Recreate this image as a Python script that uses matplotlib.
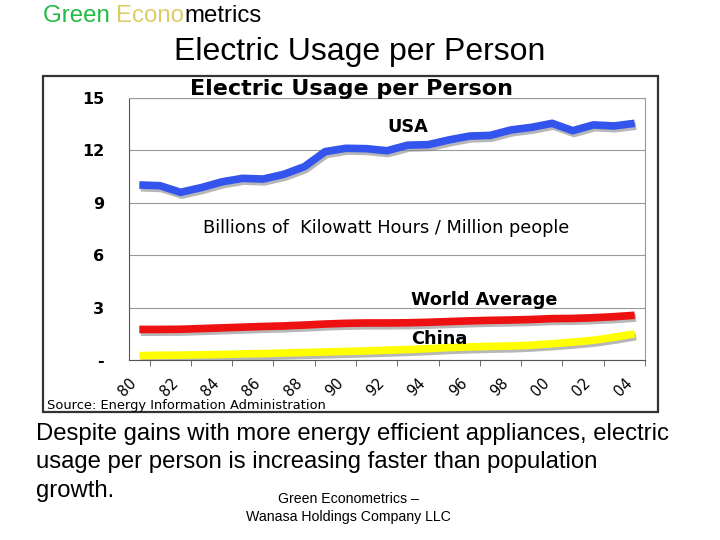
import numpy as np
import matplotlib
matplotlib.use("Agg")
import matplotlib.pyplot as plt
import matplotlib.patheffects as pe
from matplotlib.patches import Rectangle

# data (1980-2004)
years = ['80', '81', '82', '83', '84', '85', '86', '87', '88', '89',
         '90', '91', '92', '93', '94', '95', '96', '97', '98', '99',
         '00', '01', '02', '03', '04']
usa = [10.02, 9.98, 9.6, 9.87, 10.2, 10.4, 10.36, 10.63, 11.07, 11.93,
       12.12, 12.1, 11.98, 12.3, 12.33, 12.6, 12.82, 12.86, 13.17, 13.32,
       13.55, 13.13, 13.46, 13.4, 13.55]
world = [1.75, 1.75, 1.76, 1.8, 1.84, 1.88, 1.92, 1.95, 2.0, 2.06,
         2.1, 2.12, 2.12, 2.13, 2.16, 2.2, 2.24, 2.27, 2.29, 2.32,
         2.37, 2.38, 2.42, 2.48, 2.56]
china = [0.25, 0.27, 0.28, 0.3, 0.32, 0.35, 0.37, 0.4, 0.43, 0.46,
         0.49, 0.52, 0.56, 0.6, 0.65, 0.71, 0.75, 0.78, 0.8, 0.85,
         0.93, 1.02, 1.13, 1.3, 1.5]
yticks = [0, 3, 6, 9, 12, 15]
ylabels = ['-', '3', '6', '9', '12', '15']
note_lines = ['Despite gains with more energy efficient appliances, electric',
              'usage per person is increasing faster than population',
              'growth.']

W, H = 720, 540
fig = plt.figure(figsize=(7.2, 5.4), dpi=100)

# outer chart box
fig.add_artist(Rectangle((43 / W, 1 - 412 / H), 615 / W, 336 / H,
                         transform=fig.transFigure, fill=False,
                         edgecolor='#333333', linewidth=1.6))

ax = fig.add_axes([129 / W, 1 - 360 / H, 516 / W, 262 / H])
x = np.arange(len(years))

shadow = [pe.SimpleLineShadow(offset=(1, -2), shadow_color='#888888', alpha=0.6),
          pe.Normal()]
ax.plot(x, china, color='#ffff00', lw=5.5, solid_capstyle='butt', path_effects=shadow)
ax.plot(x, world, color='#ee1111', lw=5.5, solid_capstyle='butt', path_effects=shadow)
ax.plot(x, usa, color='#3355ee', lw=5.5, solid_capstyle='butt', path_effects=shadow)

ax.set_xlim(-0.5, len(years) - 0.5)
ax.set_ylim(0, 15)
ax.set_yticks(yticks)
ax.set_yticklabels(ylabels, fontweight='bold', fontsize=11.5)
ax.tick_params(axis='y', length=0, pad=18)
ax.grid(axis='y', color='#999999', lw=0.8)
ax.set_axisbelow(True)

# labels sit on the category boundaries, like the Excel original
ax.set_xticks(x[::2] - 0.5)
ax.set_xticklabels(years[::2], rotation=45, ha='right', va='top',
                   rotation_mode='anchor', fontsize=10.5)
ax.set_xticks(np.arange(-0.5, len(years)), minor=True)
ax.tick_params(axis='x', which='major', length=0, pad=11)
ax.tick_params(axis='x', which='minor', length=4, direction='out', color='#555555')

ax.spines['top'].set_color('#999999')
ax.spines['right'].set_color('#999999')
ax.spines['left'].set_color('#555555')
ax.spines['bottom'].set_color('#555555')

ax.text(13.0, 13.34, 'USA', ha='center', va='center', fontweight='bold', fontsize=12.8)
ax.text(11.97, 7.56, 'Billions of  Kilowatt Hours / Million people',
        ha='center', va='center', fontsize=12.8)
ax.text(13.16, 3.43, 'World Average', ha='left', va='center', fontweight='bold', fontsize=12.7)
ax.text(13.16, 1.2, 'China', ha='left', va='center', fontweight='bold', fontsize=12.8)

fig.text(351 / W, 1 - 89 / H, 'Electric Usage per Person', ha='center', va='center',
         fontweight='bold', fontsize=16)
fig.text(47 / W, 1 - 405 / H, 'Source: Energy Information Administration',
         ha='left', va='center', fontsize=9.4)

# slide texts
sans = 'Liberation Sans'
fig.canvas.draw()
r = fig.canvas.get_renderer()
xpos = 43 / W
for part, col in [('Green ', '#22bb44'), ('Econo', '#ddcc66'), ('metrics', 'black')]:
    t = fig.text(xpos, 1 - 16 / H, part, ha='left', va='center', color=col,
                 fontsize=17.3, family=sans)
    bb = t.get_window_extent(renderer=r)
    xpos += bb.width / W

fig.text(360 / W, 1 - 52 / H, 'Electric Usage per Person', ha='center', va='center',
         fontsize=23, family=sans)
for line, yp in zip(note_lines, [434, 462, 491]):
    fig.text(36 / W, 1 - yp / H, line, ha='left', va='center', fontsize=17.2, family=sans)
fig.text(348 / W, 1 - 499 / H, 'Green Econometrics \u2013', ha='center', va='center',
         fontsize=10.2, family=sans)
fig.text(348 / W, 1 - 517 / H, 'Wanasa Holdings Company LLC', ha='center', va='center',
         fontsize=10.2, family=sans)

fig.savefig('out.png', dpi=100)
